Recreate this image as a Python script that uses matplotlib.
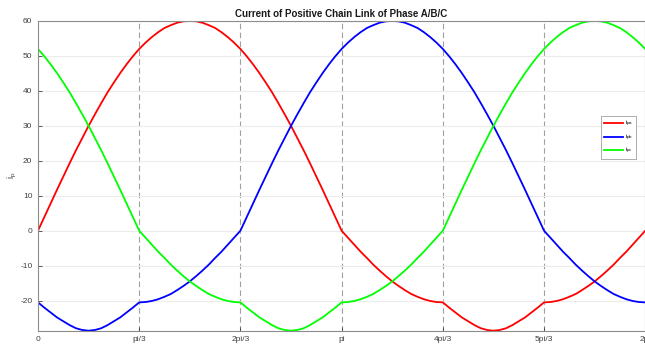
import numpy as np
import matplotlib
matplotlib.use("Agg")
import matplotlib.pyplot as plt

plt.rcParams["font.family"] = ["Liberation Sans", "DejaVu Sans"]
plt.rcParams["mathtext.fontset"] = "custom"
plt.rcParams["mathtext.rm"] = "Liberation Sans"
plt.rcParams["mathtext.it"] = "Liberation Sans"
plt.rcParams["axes.unicode_minus"] = False

# angle grid: 0 .. 2pi in steps of pi/48
theta = np.linspace(0, 2 * np.pi, 97)

# phase currents
i_pa = [0.0, 3.9, 7.8, 11.7, 15.5, 19.3, 23.0, 26.5, 30.0, 33.3, 36.5, 39.6,
        42.4, 45.1, 47.6, 49.9, 52.0, 53.8, 55.4, 56.8, 58.0, 58.8, 59.5, 59.9,
        60.0, 59.9, 59.5, 58.8, 58.0, 56.8, 55.4, 53.8, 52.0, 49.9, 47.6, 45.1,
        42.4, 39.6, 36.5, 33.3, 30.0, 26.5, 23.0, 19.3, 15.5, 11.7, 7.8, 3.9, 0.0,
        -2.0, -4.0, -6.0, -7.8, -9.7, -11.4, -13.0, -14.5, -15.8, -17.0, -18.1,
        -18.9, -19.6, -20.1, -20.4, -20.5,
        -22.0, -23.4, -24.8, -25.9, -27.0, -27.9, -28.4, -28.6, -28.4, -27.9,
        -27.0, -25.9, -24.8, -23.4, -22.0, -20.5,
        -20.4, -20.1, -19.6, -18.9, -18.1, -17.0, -15.8, -14.5, -13.0, -11.4,
        -9.7, -7.8, -6.0, -4.0, -2.0, 0.0]
i_pb = [-20.5, -22.0, -23.4, -24.8, -25.9, -27.0, -27.9, -28.4, -28.6, -28.4,
        -27.9, -27.0, -25.9, -24.8, -23.4, -22.0, -20.5,
        -20.4, -20.1, -19.6, -18.9, -18.1, -17.0, -15.8, -14.5, -13.0, -11.4,
        -9.7, -7.8, -6.0, -4.0, -2.0, 0.0,
        3.9, 7.8, 11.7, 15.5, 19.3, 23.0, 26.5, 30.0, 33.3, 36.5, 39.6,
        42.4, 45.1, 47.6, 49.9, 52.0, 53.8, 55.4, 56.8, 58.0, 58.8, 59.5, 59.9,
        60.0, 59.9, 59.5, 58.8, 58.0, 56.8, 55.4, 53.8, 52.0, 49.9, 47.6, 45.1,
        42.4, 39.6, 36.5, 33.3, 30.0, 26.5, 23.0, 19.3, 15.5, 11.7, 7.8, 3.9, 0.0,
        -2.0, -4.0, -6.0, -7.8, -9.7, -11.4, -13.0, -14.5, -15.8, -17.0, -18.1,
        -18.9, -19.6, -20.1, -20.4, -20.5]
i_pc = [52.0, 49.9, 47.6, 45.1, 42.4, 39.6, 36.5, 33.3, 30.0, 26.5, 23.0,
        19.3, 15.5, 11.7, 7.8, 3.9, 0.0,
        -2.0, -4.0, -6.0, -7.8, -9.7, -11.4, -13.0, -14.5, -15.8, -17.0, -18.1,
        -18.9, -19.6, -20.1, -20.4, -20.5,
        -22.0, -23.4, -24.8, -25.9, -27.0, -27.9, -28.4, -28.6, -28.4, -27.9,
        -27.0, -25.9, -24.8, -23.4, -22.0, -20.5,
        -20.4, -20.1, -19.6, -18.9, -18.1, -17.0, -15.8, -14.5, -13.0, -11.4,
        -9.7, -7.8, -6.0, -4.0, -2.0, 0.0,
        3.9, 7.8, 11.7, 15.5, 19.3, 23.0, 26.5, 30.0, 33.3, 36.5, 39.6,
        42.4, 45.1, 47.6, 49.9, 52.0, 53.8, 55.4, 56.8, 58.0, 58.8, 59.5, 59.9,
        60.0, 59.9, 59.5, 58.8, 58.0, 56.8, 55.4, 53.8, 52.0]

tick_pos = [0, np.pi / 3, 2 * np.pi / 3, np.pi, 4 * np.pi / 3, 5 * np.pi / 3, 2 * np.pi]
tick_lbl = ["0", "pi/3", "2pi/3", "pi", "4pi/3", "5pi/3", "2pi"]

axcol = "#404040"

fig = plt.figure(figsize=(6.45, 3.44), dpi=100)
ax = fig.add_axes([0.0589, 0.0387, 0.9415, 0.9003])

ax.plot(theta, i_pa, color="#ff0000", lw=1.3, label=r"i$_{pa}$")
ax.plot(theta, i_pb, color="#0000ff", lw=1.3, label=r"i$_{pb}$")
ax.plot(theta, i_pc, color="#00ff00", lw=1.3, label=r"i$_{pc}$")

# dashed markers at each pi/3 sector boundary
for p in tick_pos[1:-1]:
    ax.axvline(p, color="#a0a0a0", ls=(0, (5, 3)), lw=0.8, zorder=0)

ax.set_xlim(0, 2 * np.pi)
ax.set_ylim(-28.6, 60)
ax.set_xticks(tick_pos)
ax.set_xticklabels(tick_lbl)
ax.set_yticks(np.arange(-20, 61, 10))
ax.yaxis.grid(True, color="#ececec", lw=0.8)
ax.set_axisbelow(True)

ax.tick_params(direction="in", length=3, width=0.6, labelsize=6, colors=axcol, pad=4)
for s in ax.spines.values():
    s.set_color("#8c8c8c")
    s.set_linewidth(0.8)

ax.set_title("Current of Positive Chain Link of Phase A/B/C",
             fontsize=7, fontweight="bold", color="#1a1a1a", pad=3)
ax.set_ylabel(r"i$_{p}$", fontsize=6.5, color=axcol, labelpad=0.5)

leg = ax.legend(loc="upper right", bbox_to_anchor=(0.986, 0.662),
                bbox_transform=fig.transFigure, fontsize=4.5, frameon=True,
                fancybox=False, framealpha=1, edgecolor="#a0a0a0",
                handlelength=3.1, handletextpad=0.3, borderpad=0.45,
                labelspacing=0.5, borderaxespad=0)
leg.get_frame().set_linewidth(0.6)

fig.savefig("out.png", dpi=100)
